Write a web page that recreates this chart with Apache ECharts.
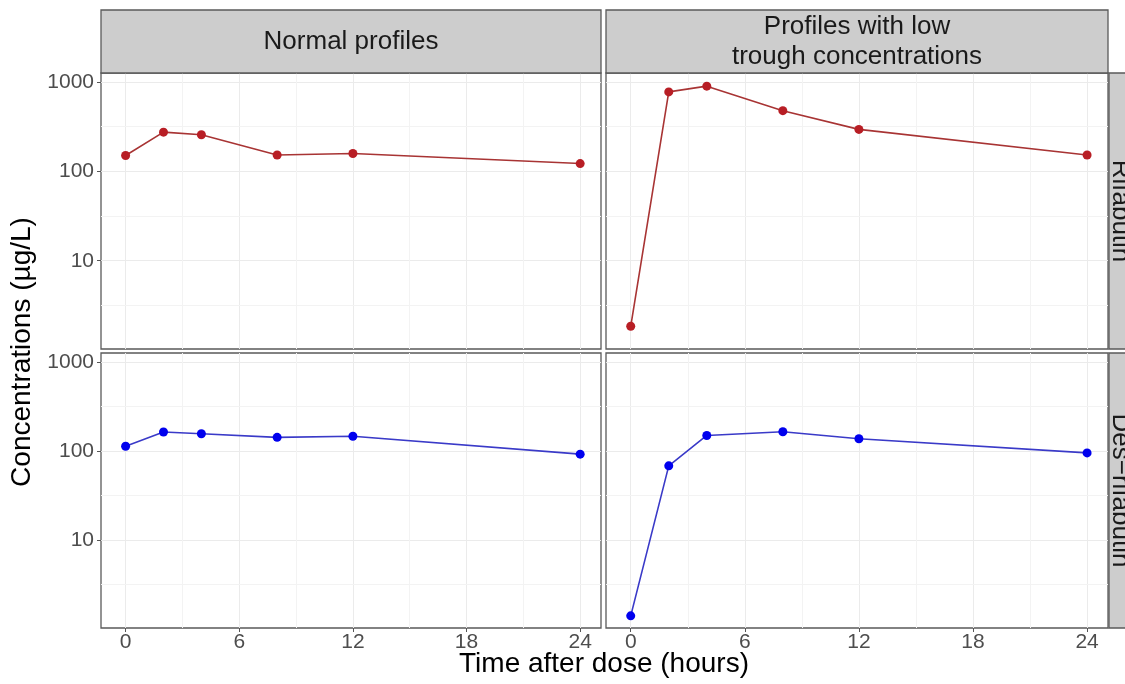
<!DOCTYPE html>
<html>
<head>
<meta charset="utf-8">
<script src="https://cdn.jsdelivr.net/npm/echarts@6/dist/echarts.min.js"></script>
<style>
  html, body { margin: 0; padding: 0; background: #ffffff; }
  #chart { width: 1125px; height: 684px; }
</style>
</head>
<body>
<div id="chart"></div>
<script>
// Sampling times (hours after dose)
const hours = [0, 2, 4, 8, 12, 24];

// Concentrations (µg/L) per facet
const rifabutinNormal = [150, 274, 256, 152, 158, 122];
const rifabutinLow = [1.85, 772, 895, 476, 294, 152];
const desRifabutinNormal = [113, 163, 156, 142, 146, 92];
const desRifabutinLow = [1.41, 68, 149, 164, 137, 95];

// Facet strip labels
const columnLabels = ['Normal profiles', 'Profiles with low\ntrough concentrations'];
const rowLabels = ['Rifabutin', 'Des\u2212rifabutin'];

// Axis breaks
const xTicks = [0, 6, 12, 18, 24];
const xMinorTicks = [3, 9, 15, 21];
const yTicks = [10, 100, 1000];
const yMinorTicks = [3.1623, 31.623, 316.23];

const FONT = 'Liberation Sans, Arial, sans-serif';

// Panel geometry (2 rows x 2 columns)
const colLeft = [101, 606];
const colWidth = [500, 502];
const rowTop = [73, 353];
const rowHeight = [276, 275];

const panels = [
  { row: 0, col: 0, values: rifabutinNormal },
  { row: 0, col: 1, values: rifabutinLow },
  { row: 1, col: 0, values: desRifabutinNormal },
  { row: 1, col: 1, values: desRifabutinLow }
];
const dotColor = ['#B81E25', '#0000EE'];
const lineColor = ['#A83434', '#3A3AC8'];

const grids = [], xAxes = [], yAxes = [], series = [];

panels.forEach(function (p, i) {
  const bottomRow = p.row === 1;
  const leftCol = p.col === 0;
  grids.push({
    left: colLeft[p.col], top: rowTop[p.row],
    width: colWidth[p.col], height: rowHeight[p.row],
    show: true, backgroundColor: '#ffffff',
    borderColor: '#5a5a5a', borderWidth: 1.3
  });
  xAxes.push({
    type: 'value', gridIndex: i, min: -1.3, max: 25.1,
    axisLine: { show: false, onZero: false },
    axisTick: {
      show: bottomRow, customValues: xTicks, length: 4,
      lineStyle: { color: '#555555', width: 1 }
    },
    axisLabel: {
      show: bottomRow, customValues: xTicks, fontSize: 21, margin: 4,
      color: '#4D4D4D', fontFamily: FONT
    },
    splitLine: { show: true, lineStyle: { color: '#EBEBEB', width: 1 } }
  });
  yAxes.push({
    type: 'log', logBase: 10, gridIndex: i, min: 1.03, max: 1256,
    axisLine: { show: false, onZero: false },
    axisTick: {
      show: leftCol, customValues: yTicks, length: 4,
      lineStyle: { color: '#555555', width: 1 }
    },
    axisLabel: {
      show: leftCol, customValues: yTicks, fontSize: 21, margin: 7,
      color: '#4D4D4D', fontFamily: FONT,
      formatter: function (v) { return String(Math.round(v)); }
    },
    splitLine: { show: true, lineStyle: { color: '#EBEBEB', width: 1 } }
  });
  series.push({
    type: 'line', xAxisIndex: i, yAxisIndex: i,
    data: hours.map(function (h, k) { return [h, p.values[k]]; }),
    symbol: 'circle', symbolSize: 9, showSymbol: true,
    itemStyle: { color: dotColor[p.row] },
    lineStyle: { color: lineColor[p.row], width: 1.6 },
    z: 3,
    markLine: {
      silent: true, symbol: 'none', z: 1,
      label: { show: false },
      lineStyle: { color: '#F3F3F3', width: 1, type: 'solid' },
      emphasis: { disabled: true },
      data: yMinorTicks.map(function (v) { return { yAxis: v }; })
        .concat(xMinorTicks.map(function (v) { return { xAxis: v }; }))
    }
  });
});

// Facet strips and axis titles
const graphics = [];
[0, 1].forEach(function (c) {
  graphics.push({
    type: 'rect', silent: true, z: 10,
    shape: { x: colLeft[c], y: 10, width: colWidth[c], height: rowTop[0] - 10 },
    style: { fill: '#CDCDCD', stroke: '#5a5a5a', lineWidth: 1.3 }
  });
  graphics.push({
    type: 'text', silent: true, z: 11,
    x: colLeft[c] + colWidth[c] / 2, y: 42,
    style: {
      text: columnLabels[c], fill: '#1A1A1A', font: '26px ' + FONT,
      align: 'center', verticalAlign: 'middle', lineHeight: 30
    }
  });
});
[0, 1].forEach(function (r) {
  graphics.push({
    type: 'rect', silent: true, z: 10,
    shape: { x: 1109, y: rowTop[r], width: 40, height: rowHeight[r] },
    style: { fill: '#CDCDCD', stroke: '#5a5a5a', lineWidth: 1.3 }
  });
  graphics.push({
    type: 'text', silent: true, z: 11,
    x: 1120, y: rowTop[r] + rowHeight[r] / 2, rotation: -Math.PI / 2,
    style: {
      text: rowLabels[r], fill: '#1A1A1A', font: '26px ' + FONT,
      align: 'center', verticalAlign: 'middle'
    }
  });
});
graphics.push({
  type: 'text', silent: true,
  x: 22, y: 352, rotation: Math.PI / 2,
  style: {
    text: 'Concentrations (\u00B5g/L)', fill: '#000000', font: '28px ' + FONT,
    align: 'center', verticalAlign: 'middle'
  }
});
graphics.push({
  type: 'text', silent: true,
  x: 604, y: 664,
  style: {
    text: 'Time after dose (hours)', fill: '#000000', font: '28px ' + FONT,
    align: 'center', verticalAlign: 'middle'
  }
});

const chart = echarts.init(document.getElementById('chart'), null, { renderer: 'canvas' });
chart.setOption({
  animation: false,
  backgroundColor: '#ffffff',
  grid: grids,
  xAxis: xAxes,
  yAxis: yAxes,
  series: series,
  graphic: graphics
});
</script>
</body>
</html>
